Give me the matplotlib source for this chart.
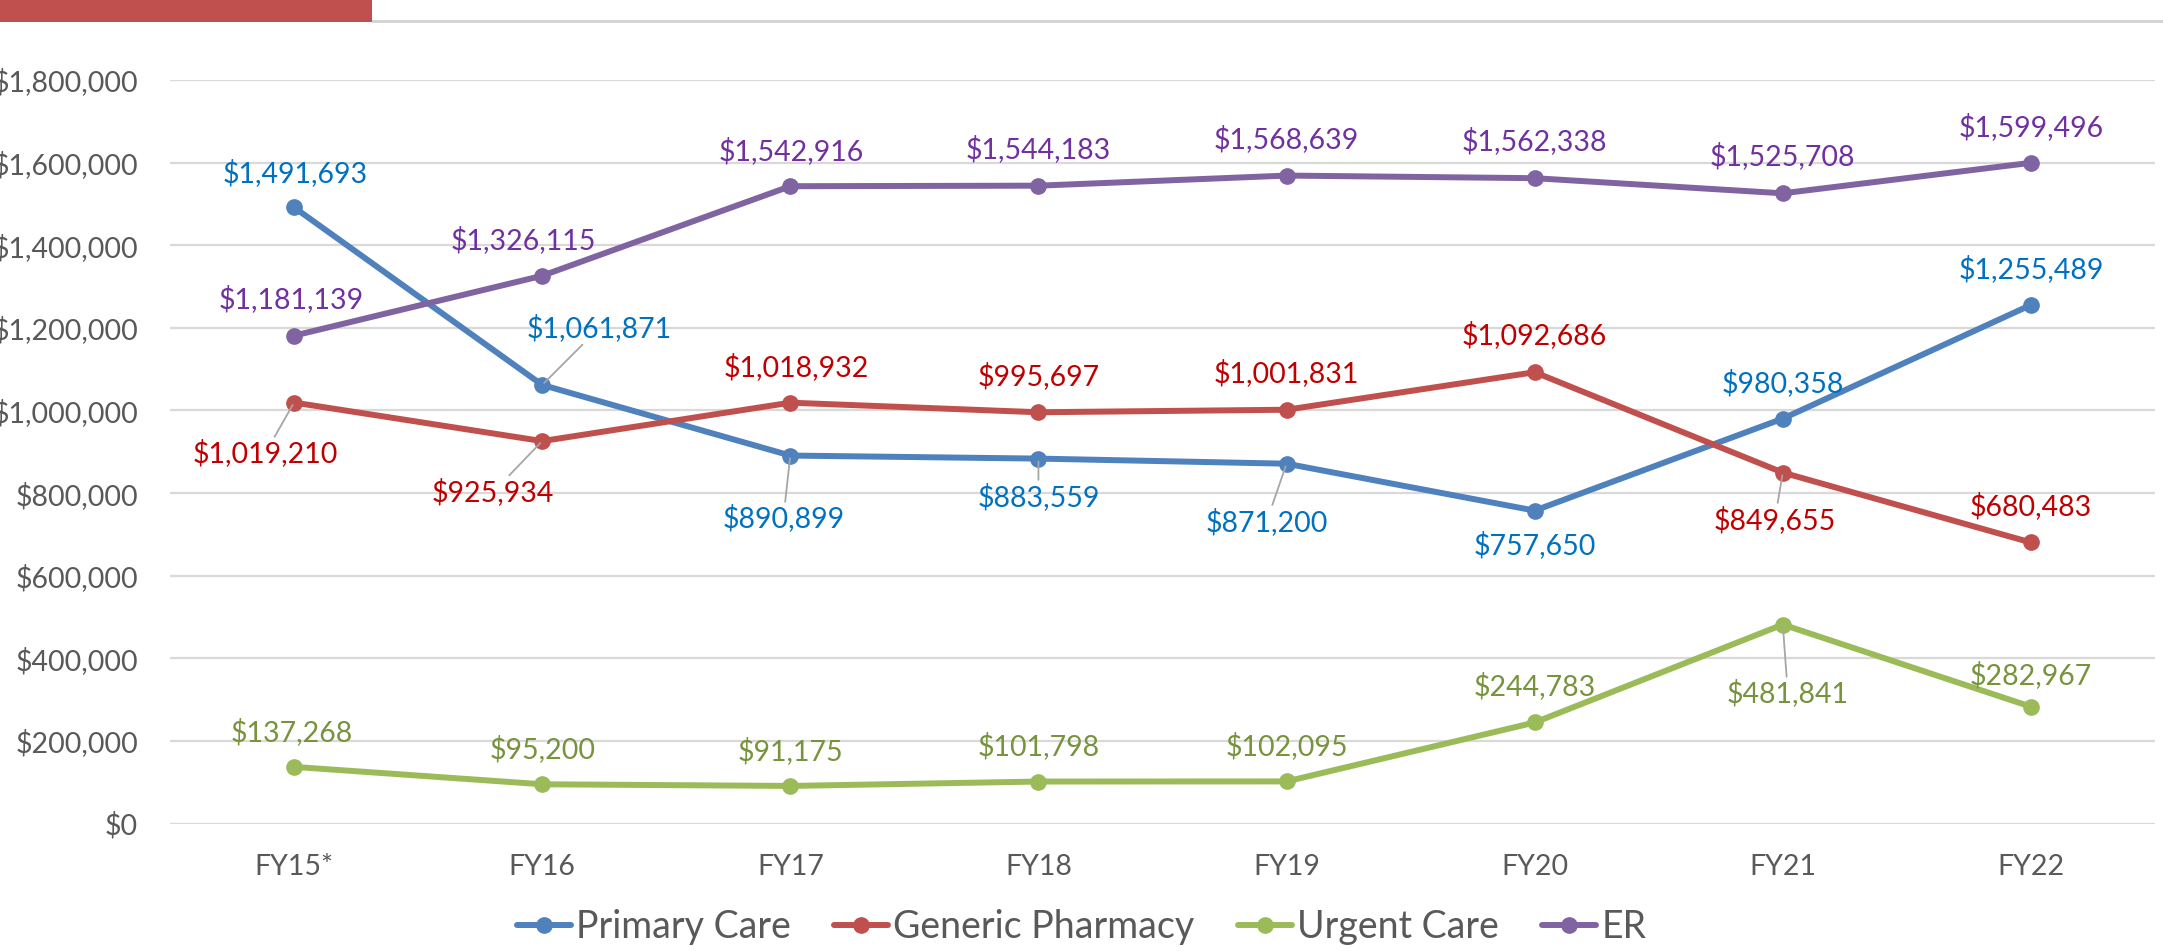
import matplotlib.pyplot as plt
from matplotlib.patches import Rectangle
from matplotlib.ticker import FuncFormatter

plt.rcParams['font.family'] = ['Lato', 'DejaVu Sans']

# Data
years = ['FY15*', 'FY16', 'FY17', 'FY18', 'FY19', 'FY20', 'FY21', 'FY22']
primary_care = [1491693, 1061871, 890899, 883559, 871200, 757650, 980358, 1255489]
generic_pharmacy = [1019210, 925934, 1018932, 995697, 1001831, 1092686, 849655, 680483]
urgent_care = [137268, 95200, 91175, 101798, 102095, 244783, 481841, 282967]
er = [1181139, 1326115, 1542916, 1544183, 1568639, 1562338, 1525708, 1599496]

# data label offsets in pixels (dx, dy) and whether a leader line is drawn
pc_offsets = [(1, 34), (57, 57), (-7, -63), (0, -38), (-20, -58), (0, -34), (0, 36), (0, 36)]
pc_leaders = [False, True, True, True, True, False, False, False]
gp_offsets = [(-29, -51), (-49, -51), (6, 36), (0, 36), (0, 37), (0, 37), (-8, -47), (0, 36)]
gp_leaders = [True, True, False, False, False, False, True, False]
uc_offsets = [(-2, 35), (0, 35), (0, 35), (0, 35), (0, 35), (0, 36), (5, -69), (0, 32)]
uc_leaders = [False, False, False, False, False, False, True, False]
er_offsets = [(-3, 37), (-19, 36), (1, 35), (0, 37), (0, 37), (0, 37), (0, 37), (0, 36)]
er_leaders = [False] * 8

series = [
    ('Primary Care', primary_care, '#4F81BD', '#0070C0', pc_offsets, pc_leaders),
    ('Generic Pharmacy', generic_pharmacy, '#C0504D', '#C00000', gp_offsets, gp_leaders),
    ('Urgent Care', urgent_care, '#9BBB59', '#77933C', uc_offsets, uc_leaders),
    ('ER', er, '#8064A2', '#7030A0', er_offsets, er_leaders),
]

W, H = 2163, 951
fig = plt.figure(figsize=(W / 100, H / 100), dpi=100)
ax = fig.add_axes([170 / W, 1 - 823.6 / H, 1985 / W, (823.6 - 80) / H])

x = list(range(len(years)))
for name, vals, lc, tc, offs, leaders in series:
    ax.plot(x, vals, color=lc, lw=4.3, marker='o', markersize=11, label=name,
            solid_capstyle='round', zorder=3)
    for i, v in enumerate(vals):
        props = None
        if leaders[i]:
            props = dict(arrowstyle='-', color='#A6A6A6', lw=1.3, shrinkA=0, shrinkB=2)
        ax.annotate(f"${v:,.0f}", (i, v), xytext=offs[i], textcoords='offset pixels',
                    ha='center', va='center', fontsize=20.5, color=tc,
                    arrowprops=props, zorder=4)

ax.set_xlim(-0.5, len(years) - 0.5)
ax.set_ylim(0, 1800000)
ax.set_yticks(range(0, 1800001, 200000))
ax.yaxis.set_major_formatter(FuncFormatter(lambda v, p: f"${v:,.0f}"))
ax.set_xticks(x)
ax.set_xticklabels(years)
ax.tick_params(axis='both', length=0, labelsize=20.5, labelcolor='#595959')
ax.tick_params(axis='y', pad=23)
ax.tick_params(axis='x', pad=22)
ax.grid(axis='y', color='#D9D9D9', lw=1.6)
ax.set_axisbelow(True)
for s in ax.spines.values():
    s.set_visible(False)

# legend under the plot
fig.legend(loc='center', bbox_to_anchor=(0.5, 1 - 927 / H), ncol=4, frameon=False,
           fontsize=27, labelcolor='#595959', handlelength=1.45, handletextpad=0.13,
           columnspacing=1.15)

# decoration at the top
fig.add_artist(Rectangle((372 / W, 1 - 23 / H), 1, 3 / H, transform=fig.transFigure,
                         color='#D4D4D4', lw=0))
fig.add_artist(Rectangle((0, 1 - 22 / H), 372 / W, 22 / H, transform=fig.transFigure,
                         color='#C0504D', lw=0))

fig.savefig('out.png', dpi=100)
